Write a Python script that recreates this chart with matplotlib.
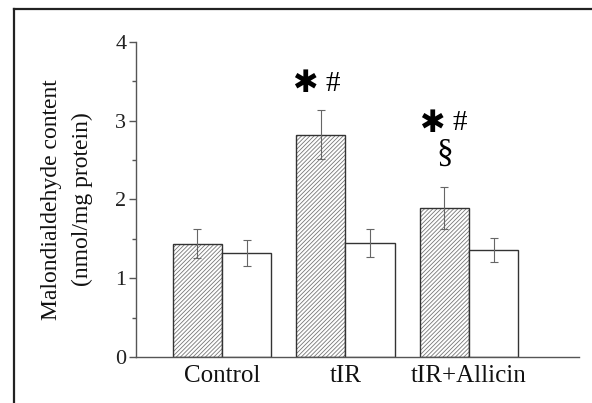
import matplotlib
matplotlib.use("Agg")
import matplotlib.pyplot as plt
import numpy as np
from matplotlib.lines import Line2D

# data
groups = ["Control", "tIR", "tIR+Allicin"]
hatched_vals = [1.44, 2.82, 1.89]
hatched_err = [0.18, 0.31, 0.27]
open_vals = [1.32, 1.45, 1.36]
open_err = [0.16, 0.18, 0.15]
y_ticks = [0, 1, 2, 3, 4]

plt.rcParams['font.family'] = ['Liberation Serif', 'DejaVu Serif']
plt.rcParams['hatch.linewidth'] = 0.6

fig = plt.figure(figsize=(5.92, 4.03), dpi=100)
ax = fig.add_axes([0.2297, 0.114, 0.748, 0.782])

x = np.arange(len(groups))
w = 0.4
EDGE = "#333333"

# hatch layer then outline layer
ax.bar(x - w/2, hatched_vals, w, color="white", edgecolor="#777777", hatch="////////", linewidth=0)
ax.bar(x - w/2, hatched_vals, w, fill=False, edgecolor=EDGE, linewidth=1.0)
ax.bar(x + w/2, open_vals, w, color="white", edgecolor=EDGE, linewidth=1.0)

ax.errorbar(x - w/2, hatched_vals, yerr=hatched_err, fmt="none", ecolor="#666666",
            elinewidth=0.8, capsize=3, capthick=0.8)
ax.errorbar(x + w/2, open_vals, yerr=open_err, fmt="none", ecolor="#666666",
            elinewidth=0.8, capsize=3, capthick=0.8)

ax.set_xlim(-0.696, 2.89)
ax.set_ylim(0, 4)
ax.set_yticks(y_ticks)
ax.set_yticks([0.5, 1.5, 2.5, 3.5], minor=True)
ax.set_xticks(x)
ax.set_xticklabels(groups, fontsize=18, color="#111111")
ax.tick_params(axis="x", length=0, pad=6)
ax.tick_params(axis="y", which="major", length=5, width=1, color="#555555",
               labelsize=16, labelcolor="#222222", pad=2)
ax.tick_params(axis="y", which="minor", length=3, width=1, color="#555555")
for s in ["top", "right"]:
    ax.spines[s].set_visible(False)
for s in ["left", "bottom"]:
    ax.spines[s].set_color("#555555")
    ax.spines[s].set_linewidth(1.0)

ax.set_ylabel("Malondialdehyde content\n(nmol/mg protein)", fontsize=17,
              linespacing=1.6, color="#111111", labelpad=16)

# significance marks
star_kw = dict(family=["DejaVu Sans"], fontsize=22, ha="center", va="center", color="black")
mark_kw = dict(fontsize=21, ha="center", va="center", color="black")
ax.text(0.8 - 0.125, 3.47, "\u2731", **star_kw)
ax.text(0.8 + 0.10, 3.47, "#", **mark_kw)
ax.text(1.8 - 0.10, 2.97, "\u2731", **star_kw)
ax.text(1.8 + 0.125, 2.97, "#", **mark_kw)
ax.text(1.806, 2.59, "\u00a7", fontsize=24, ha="center", va="center", color="black")

# outer frame (top and left edges)
fig.add_artist(Line2D([14/592, 1.0], [1 - 9/403, 1 - 9/403], color="#222222", linewidth=1.6,
                      transform=fig.transFigure))
fig.add_artist(Line2D([14/592, 14/592], [0.0, 1 - 9/403], color="#222222", linewidth=1.6,
                      transform=fig.transFigure))

fig.savefig("out.png", dpi=100)
